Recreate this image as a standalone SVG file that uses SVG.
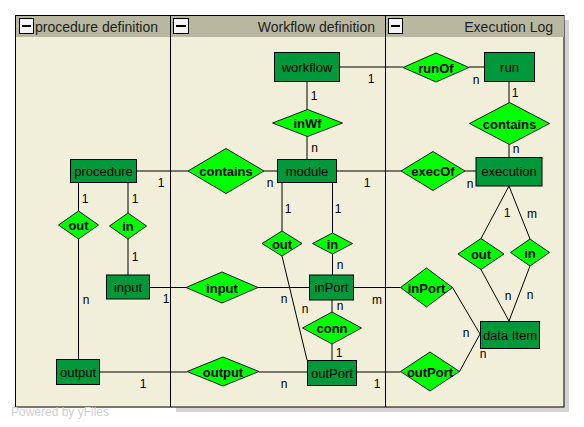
<svg xmlns="http://www.w3.org/2000/svg" width="584" height="427" viewBox="0 0 584 427">
<style>
.hdr{font-family:"Liberation Sans",Arial,sans-serif;font-size:14px;fill:#222}
.ent rect{fill:#00983a;stroke:#000;stroke-width:1}
.ent text{font-family:"Liberation Sans",Arial,sans-serif;font-size:13px;fill:#000;text-anchor:middle}
.rel polygon{fill:#00ff00;stroke:#1a1a1a;stroke-width:1}
.rel text{font-family:"Liberation Sans",Arial,sans-serif;font-size:13px;font-weight:bold;fill:#000;text-anchor:middle}
#connectors line{stroke:#000;stroke-width:1}
#connectors text{font-family:"Liberation Sans",Arial,sans-serif;font-size:12px;fill:#000;text-anchor:middle}
.btn rect{fill:#f4f4f4;stroke:#000;stroke-width:1}
.btn line{stroke:#000;stroke-width:2}
</style>
<rect width="584" height="427" fill="#fff"/>
<g id="lanes">
  <rect x="20" y="20" width="549" height="392" fill="#d4d4d4"/>
  <rect x="0" y="407.5" width="176" height="20" fill="#fff"/>
  <rect x="15.5" y="15.5" width="548.5" height="391.5" fill="#f1efd9" stroke="#000"/>
  <rect x="16" y="16" width="548" height="21" fill="#b8b8a0"/>
  <line x1="170.5" y1="15.5" x2="170.5" y2="407" stroke="#000"/>
  <line x1="385.5" y1="15.5" x2="385.5" y2="407" stroke="#000"/>
  <g class="btn"><rect x="19.5" y="18.5" width="14" height="15"/><line x1="22" y1="26" x2="31" y2="26"/></g>
  <g class="btn"><rect x="173.5" y="18.5" width="15" height="15"/><line x1="176" y1="26" x2="186" y2="26"/></g>
  <g class="btn"><rect x="388.5" y="18.5" width="14" height="15"/><line x1="391" y1="26" x2="400" y2="26"/></g>
  <text class="hdr" x="35" y="32">procedure definition</text>
  <text class="hdr" x="375" y="32" text-anchor="end">Workflow definition</text>
  <text class="hdr" x="553" y="32" text-anchor="end">Execution Log</text>
</g>
<g id="connectors">
  <line x1="339" y1="67" x2="403" y2="67"/><text x="371" y="83">1</text>
  <line x1="469" y1="67" x2="484" y2="67"/><text x="476" y="84">n</text>
  <line x1="307" y1="81" x2="307" y2="110"/><text x="314" y="100">1</text>
  <line x1="307" y1="136" x2="307" y2="159"/><text x="314.5" y="152">n</text>
  <line x1="509" y1="81" x2="509" y2="103"/><text x="515" y="97">1</text>
  <line x1="509" y1="144" x2="509" y2="157"/><text x="516" y="153">n</text>
  <line x1="136" y1="171" x2="188" y2="171"/><text x="161" y="187">1</text>
  <line x1="264" y1="171" x2="277" y2="171"/><text x="270" y="187">n</text>
  <line x1="336" y1="171" x2="401" y2="171"/><text x="367" y="187">1</text>
  <line x1="465" y1="171" x2="476" y2="171"/><text x="470" y="188">n</text>
  <line x1="78.5" y1="182" x2="78.5" y2="211"/><text x="85" y="203">1</text>
  <line x1="78.5" y1="239" x2="78.5" y2="359"/><text x="86" y="304">n</text>
  <line x1="128" y1="182" x2="128" y2="213"/><text x="135" y="203">1</text>
  <line x1="128" y1="239" x2="128" y2="275"/><text x="135" y="261">1</text>
  <line x1="149" y1="287.5" x2="186" y2="287.5"/><text x="166" y="303">1</text>
  <line x1="258" y1="287.5" x2="309" y2="287.5"/><text x="284" y="303">n</text>
  <line x1="282" y1="182" x2="282" y2="231"/><text x="288" y="213">1</text>
  <line x1="282" y1="256" x2="307" y2="360"/><text x="305" y="313">n</text>
  <line x1="332.5" y1="182" x2="332.5" y2="233"/><text x="338" y="213">1</text>
  <line x1="332.5" y1="254" x2="332.5" y2="275"/><text x="340" y="269">n</text>
  <line x1="332" y1="300" x2="332" y2="312"/><text x="340" y="310">n</text>
  <line x1="332" y1="344" x2="332" y2="360"/><text x="339" y="357">1</text>
  <line x1="353" y1="287.5" x2="400.5" y2="287.5"/><text x="377" y="304">m</text>
  <line x1="99" y1="372" x2="187" y2="372"/><text x="143" y="388">1</text>
  <line x1="259" y1="372" x2="307" y2="372"/><text x="284" y="388">n</text>
  <line x1="356" y1="372" x2="400.5" y2="372"/><text x="377" y="388">1</text>
  <line x1="452.5" y1="287.5" x2="480" y2="334"/><text x="466" y="337">n</text>
  <line x1="459.5" y1="371.5" x2="480" y2="334"/><text x="483" y="358">n</text>
  <line x1="509" y1="186" x2="481" y2="238.5"/><text x="507" y="217">1</text>
  <line x1="509" y1="186" x2="530" y2="239"/><text x="532" y="218">m</text>
  <line x1="481" y1="269.5" x2="509" y2="321"/><text x="508" y="300">n</text>
  <line x1="530" y1="266" x2="509" y2="321"/><text x="530" y="299">n</text>
</g>
<g id="workflow" class="ent"><rect x="274.5" y="52.5" width="65" height="29"/><text x="307" y="71.5">workflow</text></g>
<g id="run" class="ent"><rect x="484.5" y="52.5" width="50" height="29"/><text x="509.5" y="71.5">run</text></g>
<g id="procedure" class="ent"><rect x="70.5" y="159.5" width="66" height="23"/><text x="103.5" y="175.5">procedure</text></g>
<g id="module" class="ent"><rect x="277.5" y="159.5" width="59" height="23"/><text x="307" y="175.5">module</text></g>
<g id="execution" class="ent"><rect x="476" y="157.5" width="66" height="28.5"/><text x="509" y="176">execution</text></g>
<g id="input" class="ent"><rect x="106.5" y="275" width="43" height="24"/><text x="128" y="291.5">input</text></g>
<g id="inPort" class="ent"><rect x="309.5" y="275" width="44" height="25"/><text x="331.5" y="292">inPort</text></g>
<g id="output" class="ent"><rect x="56.5" y="359.5" width="43" height="25"/><text x="78" y="376.5">output</text></g>
<g id="outPort" class="ent"><rect x="307.5" y="360.5" width="49" height="25"/><text x="332" y="377.5">outPort</text></g>
<g id="dataItem" class="ent"><rect x="480.5" y="321.5" width="59" height="27"/><text x="510" y="339.5">data Item</text></g>
<g id="runOf" class="rel"><polygon points="403,67.5 436,53 469,67.5 436,82"/><text x="436" y="72.5">runOf</text></g>
<g id="inWf" class="rel"><polygon points="272.5,123 307.5,109.5 342.5,123 307.5,136.5"/><text x="307.5" y="128">inWf</text></g>
<g id="containsRun" class="rel"><polygon points="469.5,123.5 509.5,102.5 549.5,123.5 509.5,144.5"/><text x="509.5" y="128.5">contains</text></g>
<g id="containsProc" class="rel"><polygon points="188,171 226,148.5 264,171 226,193.5"/><text x="226" y="176">contains</text></g>
<g id="execOf" class="rel"><polygon points="401,171 433,151.5 465,171 433,190.5"/><text x="433" y="176">execOf</text></g>
<g id="procOut" class="rel"><polygon points="58.5,225 78.5,211 98.5,225 78.5,239"/><text x="78.5" y="230">out</text></g>
<g id="procIn" class="rel"><polygon points="109.5,226 128,213 146.5,226 128,239"/><text x="128" y="231">in</text></g>
<g id="modOut" class="rel"><polygon points="262,243.5 282,231 302,243.5 282,256"/><text x="282" y="248.5">out</text></g>
<g id="modIn" class="rel"><polygon points="312.5,243.5 332.5,233 352.5,243.5 332.5,254"/><text x="332.5" y="248.5">in</text></g>
<g id="execOut" class="rel"><polygon points="458,254 481,238.5 504,254 481,269.5"/><text x="481" y="259">out</text></g>
<g id="execIn" class="rel"><polygon points="510.5,252.5 530,239 549.5,252.5 530,266"/><text x="530" y="257.5">in</text></g>
<g id="inputRel" class="rel"><polygon points="186,287.5 222,272 258,287.5 222,303"/><text x="222" y="292.5">input</text></g>
<g id="inPortRel" class="rel"><polygon points="400.5,287.5 426.5,268 452.5,287.5 426.5,307"/><text x="426.5" y="292.5">inPort</text></g>
<g id="conn" class="rel"><polygon points="302.5,328 332,312 361.5,328 332,344"/><text x="332" y="333">conn</text></g>
<g id="outputRel" class="rel"><polygon points="187,371.5 223,357 259,371.5 223,386"/><text x="223" y="376.5">output</text></g>
<g id="outPortRel" class="rel"><polygon points="400.5,371.5 430,352 459.5,371.5 430,391"/><text x="430" y="376.5">outPort</text></g>
<text x="11" y="416" font-family="'Liberation Sans',Arial,sans-serif" font-size="12" fill="#cfcfcf">Powered by yFiles</text>
</svg>
